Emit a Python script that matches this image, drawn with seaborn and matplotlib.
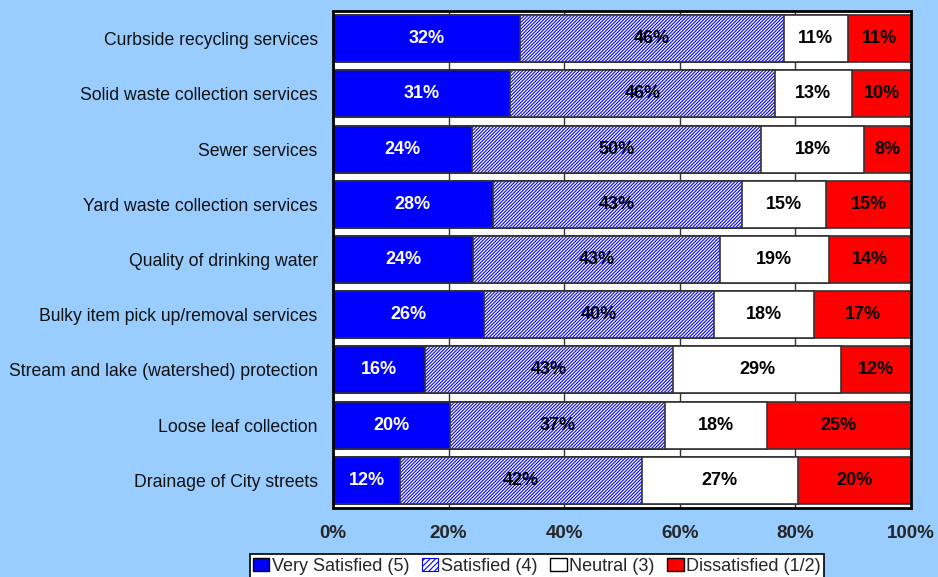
import numpy as np
import pandas as pd
import matplotlib
matplotlib.use("Agg")
import matplotlib.pyplot as plt
from matplotlib import font_manager
import seaborn as sns

# Survey categories, top to bottom
services = ["Curbside recycling services", "Solid waste collection services", "Sewer services",
            "Yard waste collection services", "Quality of drinking water",
            "Bulky item pick up/removal services", "Stream and lake (watershed) protection",
            "Loose leaf collection", "Drainage of City streets"]

# Printed labels (%)
very_sat_lbl = [32, 31, 24, 28, 24, 26, 16, 20, 12]
sat_lbl = [46, 46, 50, 43, 43, 40, 43, 37, 42]
neutral_lbl = [11, 13, 18, 15, 19, 18, 29, 18, 27]
dissat_lbl = [11, 10, 8, 15, 14, 17, 12, 25, 20]

# Segment widths (%)
very_sat = [32.4, 30.7, 24.1, 27.6, 24.3, 26.2, 15.9, 20.3, 11.6]
sat = [45.6, 45.7, 49.9, 43.1, 42.6, 39.7, 42.9, 37.2, 41.8]
neutral = [11.1, 13.4, 17.9, 14.6, 18.9, 17.3, 29.1, 17.5, 27.0]
dissat = [10.9, 10.2, 8.1, 14.7, 14.2, 16.8, 12.1, 25.0, 19.6]

legend_names = ["Very Satisfied (5)", "Satisfied (4)", "Neutral (3)", "Dissatisfied (1/2)"]

df = pd.DataFrame({"service": services, "vs": very_sat, "s": sat, "n": neutral, "d": dissat})
df["c1"] = df["vs"]
df["c2"] = df["c1"] + df["s"]
df["c3"] = df["c2"] + df["n"]
df["c4"] = df["c3"] + df["d"]

sns.set_style("white")
plt.rcParams["font.family"] = ["Liberation Sans", "DejaVu Sans"]
plt.rcParams["hatch.linewidth"] = 0.8

# pick the regular-width bold face (avoid the Narrow one)
bold_path = None
for f in font_manager.fontManager.ttflist:
    if f.name == "Liberation Sans" and f.weight in (700, "bold") and f.style == "normal" \
            and "Narrow" not in f.fname:
        bold_path = f.fname
        break
if bold_path:
    bold = lambda size: font_manager.FontProperties(fname=bold_path, size=size)
else:
    bold = lambda size: font_manager.FontProperties(family="Liberation Sans", weight="bold", size=size)

fig = plt.figure(figsize=(9.38, 5.77), dpi=100, facecolor="#99CCFF")
ax = fig.add_axes([333 / 938, 1 - 508 / 577, 578 / 938, 497 / 577])
ax.set_facecolor("white")

edge = "#333333"
bw = 0.85
# draw cumulative bars from the longest to the shortest
sns.barplot(data=df, x="c4", y="service", color="#FF0000", edgecolor=edge, linewidth=1.2,
            width=bw, saturation=1, ax=ax, zorder=2)
sns.barplot(data=df, x="c3", y="service", color="white", edgecolor=edge, linewidth=1.2,
            width=bw, saturation=1, ax=ax, zorder=2)
sns.barplot(data=df, x="c2", y="service", color="white", edgecolor="#0000FF", linewidth=0,
            hatch="//////////", width=bw, saturation=1, ax=ax, zorder=2)
sns.barplot(data=df, x="c2", y="service", fill=False, edgecolor=edge, linewidth=1.2,
            width=bw, ax=ax, zorder=2)
sns.barplot(data=df, x="c1", y="service", color="#0000FF", edgecolor=edge, linewidth=1.2,
            width=bw, saturation=1, ax=ax, zorder=2)

# segment labels
for i in range(len(services)):
    segs = [(df["c1"][i] / 2, very_sat_lbl[i], "white"),
            ((df["c1"][i] + df["c2"][i]) / 2, sat_lbl[i], "black"),
            ((df["c2"][i] + df["c3"][i]) / 2, neutral_lbl[i], "black"),
            ((df["c3"][i] + df["c4"][i]) / 2, dissat_lbl[i], "black")]
    for xc, lab, col in segs:
        ax.text(xc, i, f"{lab}%", ha="center", va="center", color=col,
                fontproperties=bold(13), zorder=5)

ax.set_xlim(0, 100)
ax.set_ylim(len(services) - 0.5, -0.5)
ax.set_xticks(np.arange(0, 101, 20))
ax.set_xticklabels([f"{t}%" for t in range(0, 101, 20)], fontproperties=bold(13.5))
ax.grid(axis="x", color="#333333", linewidth=1, zorder=0)
ax.set_axisbelow(True)
ax.tick_params(axis="x", length=0, pad=12)
ax.tick_params(axis="y", length=0, labelsize=12.7, pad=11, labelcolor="#111111")
ax.set_xlabel("")
ax.set_ylabel("")
for sp in ax.spines.values():
    sp.set_visible(True)
    sp.set_color("black")
    sp.set_linewidth(2)

handles = [plt.Rectangle((0, 0), 1, 1, facecolor="#0000FF", edgecolor="black", linewidth=1),
           plt.Rectangle((0, 0), 1, 1, facecolor="white", edgecolor="#0000FF", hatch="//////", linewidth=0.8),
           plt.Rectangle((0, 0), 1, 1, facecolor="white", edgecolor="black", linewidth=1),
           plt.Rectangle((0, 0), 1, 1, facecolor="#FF0000", edgecolor="black", linewidth=1)]
leg = fig.legend(handles, legend_names, loc="upper center", bbox_to_anchor=(537 / 938, 1 - 554 / 577),
                 ncol=4, fontsize=13, frameon=True, fancybox=False, framealpha=1,
                 edgecolor="black", handlelength=0.9, handleheight=0.8, handletextpad=0.15,
                 columnspacing=0.7, borderpad=0.2, borderaxespad=0)
leg.get_frame().set_linewidth(1.2)

fig.savefig("out.png", dpi=100, facecolor=fig.get_facecolor())
